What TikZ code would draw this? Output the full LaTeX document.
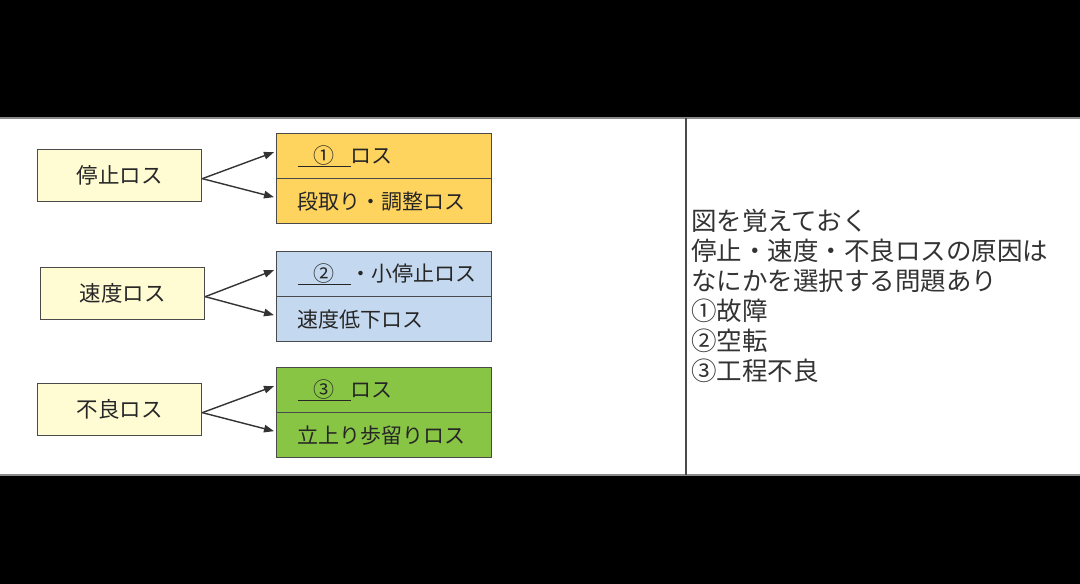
\documentclass[tikz,border=0pt]{standalone}
\usepackage{fontspec}
\setmainfont{Noto Sans CJK JP}
\usetikzlibrary{arrows.meta,calc}
\definecolor{paleyellow}{HTML}{FFFCD4}
\definecolor{orangefill}{HTML}{FFD45E}
\definecolor{bluefill}{HTML}{C4D8EF}
\definecolor{greenfill}{HTML}{88C544}
\definecolor{edgegray}{HTML}{4A4A4A}
\definecolor{arrowgray}{HTML}{333333}
\definecolor{txtgray}{HTML}{262626}
\definecolor{notegray}{HTML}{333333}
\definecolor{rulegray}{HTML}{8A8A8A}
\begin{document}
\begin{tikzpicture}[x=1pt,y=-1pt,
  lbox/.style={draw=edgegray, line width=1.3pt, fill=paleyellow, anchor=north west,
    minimum width=164pt, minimum height=52pt, inner sep=0pt,
    font=\fontsize{21.5}{25}\selectfont, text=txtgray},
  rbox/.style={draw=edgegray, line width=1.3pt, anchor=north west,
    text width=173pt, inner xsep=21pt, inner ysep=0pt, minimum height=45pt, align=left,
    font=\fontsize{21}{25}\selectfont, text=txtgray},
  arr/.style={draw=arrowgray, line width=1.4pt, -{Triangle[length=10pt,width=7.5pt]}}
]
\useasboundingbox (0,0) rectangle (1080,584);
\fill[black] (0,0) rectangle (1080,584);
\fill[white] (0,117) rectangle (1080,476);
\draw[rulegray, line width=2pt] (0,118) -- (1080,118);
\draw[rulegray, line width=2pt] (0,475) -- (1080,475);
\draw[edgegray, line width=1.5pt] (686,118) -- (686,475);

% left boxes
\node[lbox] (l1) at (37,149) {停止ロス};
\node[lbox] (l2) at (40,267) {速度ロス};
\node[lbox] (l3) at (37,383) {不良ロス};

% right boxes
\node[rbox, fill=orangefill] (r1a) at (276,133) {\underline{\makebox[53pt]{①}}ロス};
\node[rbox, fill=orangefill] (r1b) at (276,178) {段取り・調整ロス};
\node[rbox, fill=bluefill] (r2a) at (276,251) {\underline{\makebox[53pt]{②}}・小停止ロス};
\node[rbox, fill=bluefill] (r2b) at (276,296) {速度低下ロス};
\node[rbox, fill=greenfill] (r3a) at (276,367) {\underline{\makebox[53pt]{③}}ロス};
\node[rbox, fill=greenfill] (r3b) at (276,412) {立上り歩留りロス};

% arrows
\draw[arr] ($(l1.east)+(0,3)$) -- ($(r1a.west)+(-2,-4)$);
\draw[arr] ($(l1.east)+(0,3)$) -- ($(r1b.west)+(-2,-4)$);
\draw[arr] ($(l2.east)+(0,3)$) -- ($(r2a.west)+(-2,-4)$);
\draw[arr] ($(l2.east)+(0,3)$) -- ($(r2b.west)+(-2,-4)$);
\draw[arr] ($(l3.east)+(0,3)$) -- ($(r3a.west)+(-2,-4)$);
\draw[arr] ($(l3.east)+(0,3)$) -- ($(r3b.west)+(-2,-4)$);

% note
\node[anchor=west, inner sep=0pt, align=left, text=notegray,
  font=\fontsize{25.5}{30}\selectfont] (note) at (691,296)
  {図を覚えておく\\停止・速度・不良ロスの原因は\\なにかを選択する問題あり\\①故障\\②空転\\③工程不良};
\end{tikzpicture}
\end{document}
